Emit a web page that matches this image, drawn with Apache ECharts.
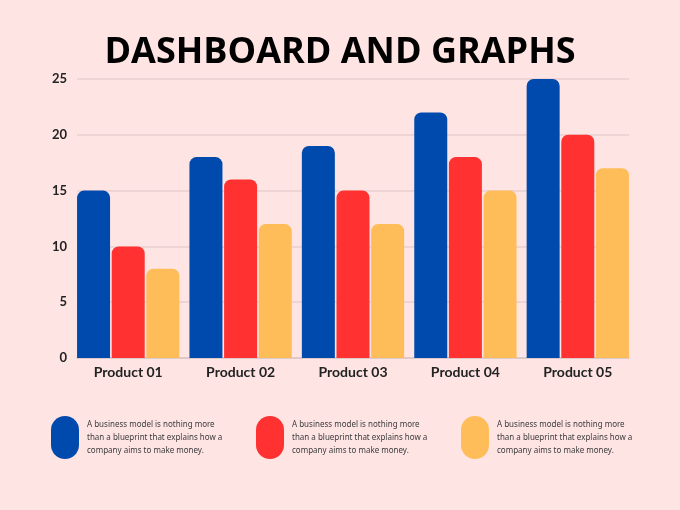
<!DOCTYPE html>
<html><head><meta charset="utf-8">
<script src="https://cdn.jsdelivr.net/npm/echarts@6/dist/echarts.min.js"></script>
<style>html,body{margin:0;padding:0;background:#FFE4E4;}#c{width:680px;height:510px;}</style>
</head><body><div id="c"></div>
<script>
const categories = ['Product 01','Product 02','Product 03','Product 04','Product 05'];
const blueValues = [15,18,19,22,25];
const redValues = [10,16,15,18,20];
const yellowValues = [8,12,12,15,17];
const seriesColors = ['#004AAD','#FF3131','#FFBD59'];
const legendTexts = [
  'A business model is nothing more\nthan a blueprint that explains how a\ncompany aims to make money.',
  'A business model is nothing more\nthan a blueprint that explains how a\ncompany aims to make money.',
  'A business model is nothing more\nthan a blueprint that explains how a\ncompany aims to make money.'
];
const chart = echarts.init(document.getElementById('c'));
const legendX = [51, 256, 461];
const graphics = [];
legendX.forEach((x,i)=>{
  graphics.push({type:'rect', left:x, top:416, shape:{width:28,height:43,r:14}, style:{fill:seriesColors[i]}});
  graphics.push({type:'text', left:x+36, top:418, style:{text:legendTexts[i], fill:'#3a3a3a', font:'8px "Noto Sans"', lineHeight:13}});
});
const mk = (name,data,color)=>({name, type:'bar', data, xAxisIndex:1, yAxisIndex:1, barWidth:33, barGap:'5%', itemStyle:{color, borderRadius:[7,7,0,0]}});
const labelStyle = {color:'#222', fontFamily:'Lato', fontWeight:'bold', fontSize:13};
chart.setOption({
  backgroundColor:'#FFE4E4',
  title:{text:'DASHBOARD AND GRAPHS', left:'center', top:30, textStyle:{fontFamily:'Open Sans', fontWeight:'bold', fontSize:36, color:'#000'}},
  grid:[{left:77, right:51, top:79, bottom:152},{left:72, right:46, top:79, bottom:152}],
  xAxis:[
    {type:'category', gridIndex:0, data:categories, axisTick:{show:false}, axisLabel:{show:false},
     axisLine:{lineStyle:{color:'#D9C3C3', width:1.5}}},
    {type:'category', gridIndex:1, data:categories, axisTick:{show:false}, axisLine:{show:false},
     axisLabel:Object.assign({}, labelStyle, {margin:7, fontSize:14})}
  ],
  yAxis:[
    {type:'value', gridIndex:0, min:0, max:25, interval:5,
     axisLabel:Object.assign({margin:10}, labelStyle),
     splitLine:{lineStyle:{color:'#E8CFCF', width:1.5}}},
    {type:'value', gridIndex:1, min:0, max:25, interval:5, show:false, splitLine:{show:false}}
  ],
  series:[mk('A',blueValues,seriesColors[0]), mk('B',redValues,seriesColors[1]), mk('C',yellowValues,seriesColors[2])],
  graphic:graphics,
  animation:false
});
</script></body></html>
